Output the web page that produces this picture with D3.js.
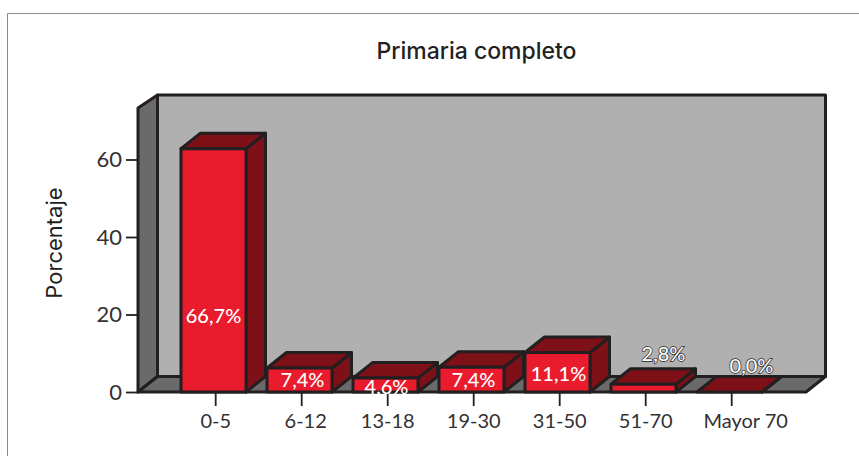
<!DOCTYPE html>
<html><head><meta charset="utf-8">
<script src="https://cdn.jsdelivr.net/npm/d3@7"></script>
<style>html,body{margin:0;padding:0;background:#fff}svg{display:block}</style>
</head><body><svg id="c" width="859" height="456"></svg>
<script>
const categories = ["0-5","6-12","13-18","19-30","31-50","51-70","Mayor 70"];
const barValues = [62.8,6.2,3.6,6.4,10.2,2,0];
const valueLabels = ["66,7%","7,4%","4,6%","7,4%","11,1%","2,8%","0,0%"];
const yTicks = [0,20,40,60];
const chartTitle = "Primaria completo";
const yTitle = "Porcentaje";

const font = "Lato, 'Open Sans', sans-serif";
const headFont = "Inter, Lato, sans-serif";
const ink = "#231f20";
const textInk = "#333132";
const svg = d3.select("#c");
svg.append("path").attr("d","M7.5,456V13.5H859").attr("fill","none").attr("stroke","#8a8a8a").attr("stroke-width",1);

const x = d3.scaleBand().domain(categories).range([172.7,774.7]);
const y = d3.scaleLinear().domain([0,60]).range([392,159.5]);
const dx = 19.5, dy = -15.5;
const wallLeft = 138, wallRight = 806, wallTop = 95;
const poly = pts => "M"+pts.map(p=>p.join(",")).join("L")+"Z";
const g = svg.append("g").attr("stroke",ink).attr("stroke-width",3).attr("stroke-linejoin","round");
// walls
g.append("path").attr("d",poly([[wallLeft,392],[wallLeft,108],[wallLeft+dx,wallTop],[wallLeft+dx,392+dy]])).attr("fill","#6a6a6a");
g.append("path").attr("d",poly([[wallLeft+dx,392+dy],[wallLeft+dx,wallTop],[wallRight+dx,wallTop],[wallRight+dx,392+dy]])).attr("fill","#b0b0b0");
g.append("path").attr("d",poly([[wallLeft,392],[wallLeft+dx,392+dy],[wallRight+dx,392+dy],[wallRight,392]])).attr("fill","#6a6a6a");

// axes
const ay = svg.append("g").attr("transform",`translate(${wallLeft},0)`)
  .call(d3.axisLeft(y).tickValues(yTicks).tickSize(12).tickPadding(4));
ay.select(".domain").remove();
ay.selectAll("line").attr("stroke",ink).attr("stroke-width",1.8);
ay.selectAll("text").attr("fill",textInk).attr("font-family",font).attr("font-size",22);
const tickTextShift = [0,4,0,0,0,0,14];
const ax = svg.append("g").attr("transform","translate(0,392)")
  .call(d3.axisBottom(x).tickSize(14).tickPadding(8));
ax.select(".domain").remove();
ax.selectAll("line").attr("stroke",ink).attr("stroke-width",1.8);
ax.selectAll("text").attr("fill",textInk).attr("font-family",font).attr("font-size",20)
  .attr("x",(d,i)=>tickTextShift[i]);

// bars
const barW = 65, inset = 8.3;
categories.forEach((c,i)=>{
  const x0 = x(c)+inset, x1 = x0+barW, t = y(barValues[i]), b = y(0);
  const bg = g.append("g");
  bg.append("path").attr("d",poly([[x1,b],[x1,t],[x1+dx,t+dy],[x1+dx,b+dy]])).attr("fill","#7e1018");
  bg.append("path").attr("d",poly([[x0,t],[x0+dx,t+dy],[x1+dx,t+dy],[x1,t]])).attr("fill","#7e1018");
  if (barValues[i]>0) bg.append("rect").attr("x",x0).attr("y",t).attr("width",barW).attr("height",b-t).attr("fill","#e91b2c");
});

// value labels
const labelY = [323,387,394,387,381,361,373];
const labelShift = [0,3,1,2,1,20,22];
categories.forEach((c,i)=>{
  const outlined = barValues[i] < 3;
  const t = svg.append("text").text(valueLabels[i]).attr("x",x(c)+inset+barW/2+labelShift[i]).attr("y",labelY[i])
    .attr("text-anchor","middle").attr("font-family",font).attr("font-size",20).attr("font-weight",500).attr("fill","#fff");
  if (outlined) t.attr("stroke",ink).attr("stroke-width",1.4).attr("paint-order","stroke");
});

svg.append("text").text(chartTitle).attr("x",476.5).attr("y",59).attr("text-anchor","middle")
  .attr("font-family",headFont).attr("font-size",23).attr("font-weight",500).attr("fill",ink);
svg.append("text").text(yTitle).attr("transform","translate(62,243) rotate(-90)").attr("text-anchor","middle")
  .attr("font-family",headFont).attr("font-size",22).attr("font-weight",400).attr("fill",ink);
</script></body></html>
